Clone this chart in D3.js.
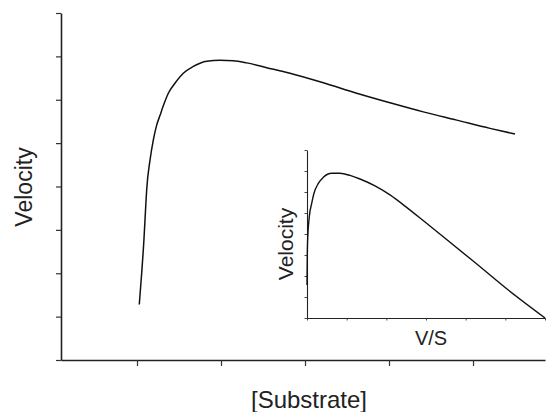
<!DOCTYPE html>
<html>
<head>
<meta charset="utf-8">
<script src="https://cdn.jsdelivr.net/npm/d3@7"></script>
<style>
  body { margin: 0; background: #fff; }
  text { font-family: "Liberation Sans", Arial, sans-serif; fill: #222; }
</style>
</head>
<body>
<div id="vis"></div>
<script>
// Main plot: velocity vs [substrate]
const substrate = [1.027, 1.056, 1.083, 1.104, 1.115, 1.155, 1.194, 1.235, 1.274, 1.313,
  1.373, 1.452, 1.551, 1.670, 1.830, 1.988, 2.146, 2.306, 2.544, 2.821,
  3.218, 3.615, 4.012, 4.408, 4.806, 5.202, 5.5]
const velocity = [1.28, 2.01, 2.79, 3.55, 3.92, 4.61, 5.07, 5.42, 5.64, 5.86,
  6.15, 6.38, 6.61, 6.77, 6.89, 6.91, 6.90, 6.85, 6.74, 6.61,
  6.39, 6.15, 5.93, 5.72, 5.53, 5.34, 5.21]

// Inset: velocity vs V/S
const vOverS = [0, 0.008, 0.013, 0.058, 0.118, 0.176, 0.285, 0.411, 0.623, 0.832,
  1.084, 1.336, 1.714, 2.092, 2.470, 2.975, 3.396, 4.235, 5.074, 6.0]
const insetVelocity = [1.57, 3.10, 3.57, 4.82, 5.46, 5.94, 6.41, 6.70, 6.89, 6.89,
  6.79, 6.62, 6.29, 5.86, 5.33, 4.57, 3.93, 2.64, 1.33, 0]

const mainXTicks = [1, 2, 3, 4, 5]
const mainYTicks = [0, 1, 2, 3, 4, 5, 6, 7, 8]
const insetXTicks = [0, 1, 2, 3, 4, 5, 6]
const insetYTicks = [0, 1, 2, 3, 4, 5, 6, 7, 8]

const svg = d3.select("#vis")
    .append("svg")
    .attr("width", 550)
    .attr("height", 412)

// Main scales
const x = d3.scaleLinear().domain([0.0952, 5.857]).range([61, 545])
const y = d3.scaleLinear().domain([0, 8]).range([360, 13])

function styleAxis(g, domainWidth, tickWidth) {
    g.select(".domain").attr("stroke", "#222").attr("stroke-width", domainWidth)
    g.selectAll(".tick line").attr("stroke", "#333").attr("stroke-width", tickWidth)
    g.selectAll(".tick text").remove()
}

svg.append("g")
    .attr("transform", "translate(0,360)")
    .call(d3.axisBottom(x).tickValues(mainXTicks).tickSize(6).tickSizeOuter(0))
    .call(g => styleAxis(g, 1.6, 1.2))

svg.append("g")
    .attr("transform", "translate(61,0)")
    .call(d3.axisLeft(y).tickValues(mainYTicks).tickSize(5).tickSizeOuter(0))
    .call(g => styleAxis(g, 1.6, 1.2))

const mainLine = d3.line()
    .x((d, i) => x(substrate[i]))
    .y((d, i) => y(velocity[i]))
    .curve(d3.curveMonotoneX)

svg.append("path")
    .attr("d", mainLine(substrate))
    .attr("fill", "none")
    .attr("stroke", "#111")
    .attr("stroke-width", 1.5)

svg.append("text")
    .attr("transform", "translate(32,187) rotate(-90)")
    .attr("text-anchor", "middle")
    .style("font-size", "23px")
    .text("Velocity")

svg.append("text")
    .attr("x", 309)
    .attr("y", 408)
    .attr("text-anchor", "middle")
    .style("font-size", "24px")
    .text("[Substrate]")

// Inset scales
const ix = d3.scaleLinear().domain([0, 6]).range([307, 545])
const iy = d3.scaleLinear().domain([0, 8]).range([318, 150])

svg.append("g")
    .attr("transform", "translate(0,318)")
    .call(d3.axisBottom(ix).tickValues(insetXTicks).tickSize(2.5).tickSizeOuter(0))
    .call(g => styleAxis(g, 1.1, 0.9))

svg.append("g")
    .attr("transform", "translate(307,0)")
    .call(d3.axisLeft(iy).tickValues(insetYTicks).tickSize(2.5).tickSizeOuter(0))
    .call(g => styleAxis(g, 1.1, 0.9))

const insetLine = d3.line()
    .x((d, i) => ix(vOverS[i]))
    .y((d, i) => iy(insetVelocity[i]))
    .curve(d3.curveMonotoneX)

svg.append("path")
    .attr("d", insetLine(vOverS))
    .attr("fill", "none")
    .attr("stroke", "#111")
    .attr("stroke-width", 1.4)

svg.append("text")
    .attr("transform", "translate(293,244) rotate(-90)")
    .attr("text-anchor", "middle")
    .style("font-size", "21px")
    .text("Velocity")

svg.append("text")
    .attr("x", 431)
    .attr("y", 345)
    .attr("text-anchor", "middle")
    .style("font-size", "20px")
    .text("V/S")
</script>
</body>
</html>
